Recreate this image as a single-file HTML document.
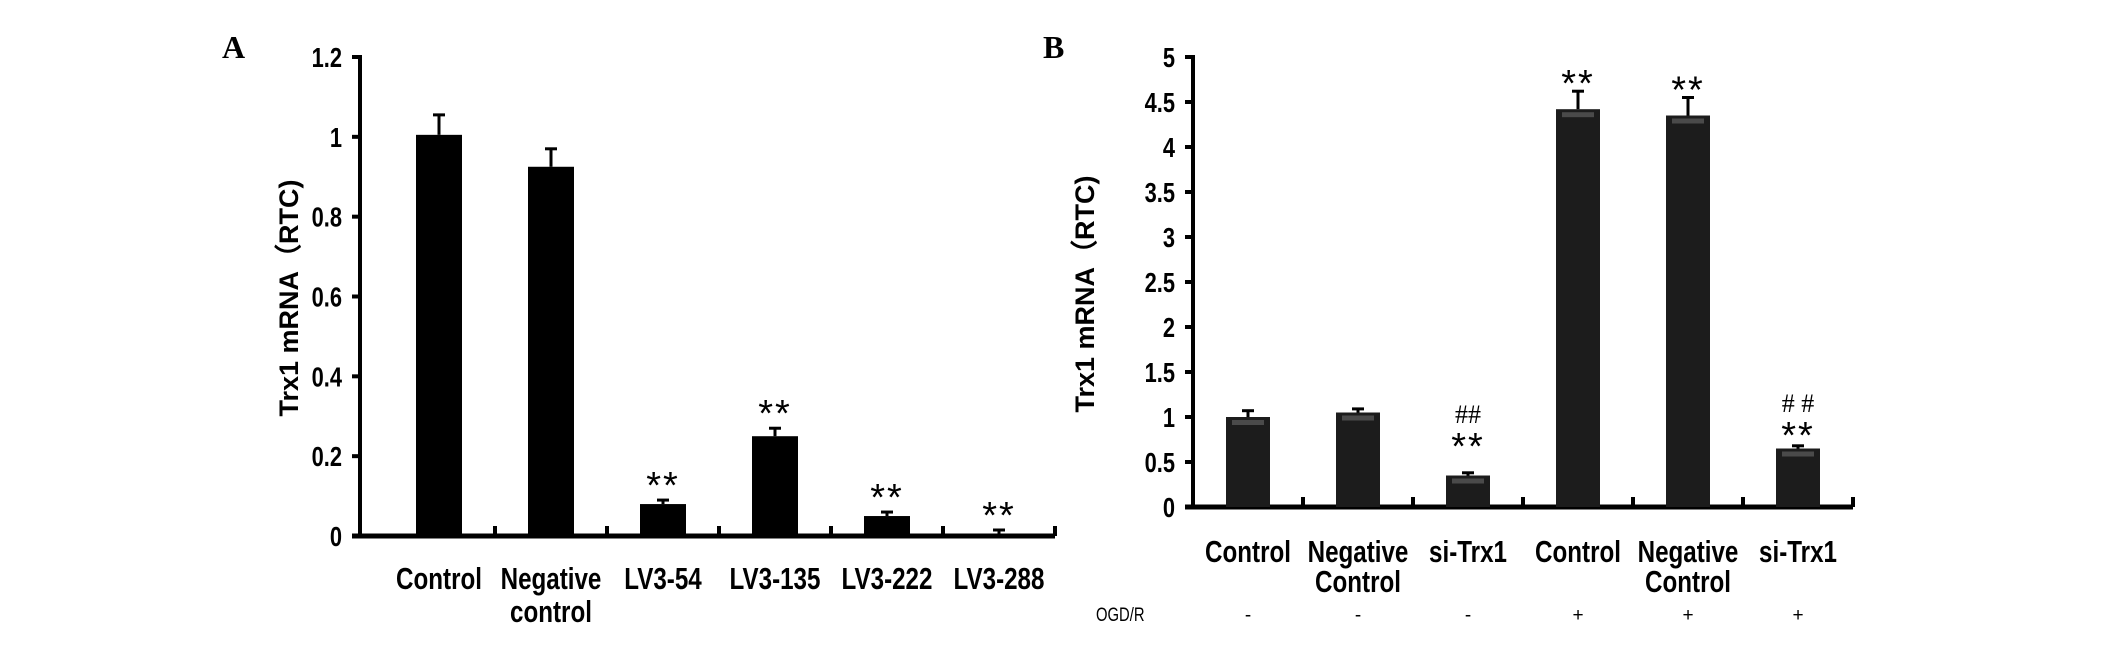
<!DOCTYPE html>
<html><head><meta charset="utf-8"><style>
html,body{margin:0;padding:0;background:#fff;}
svg{display:block;}
.tk{font-family:"Liberation Sans",sans-serif;font-weight:bold;font-size:28px;fill:#000;}
.cat{font-family:"Liberation Sans",sans-serif;font-weight:bold;font-size:31px;fill:#000;}
.yt{font-family:"Liberation Sans",sans-serif;font-weight:bold;font-size:27px;fill:#000;}
.pl{font-family:"Liberation Serif",serif;font-weight:bold;font-size:32px;fill:#000;}
.st{font-family:"Liberation Sans",sans-serif;font-size:38px;fill:#000;}
.hs{font-family:"Liberation Serif",serif;font-size:26px;fill:#000;}
.og{font-family:"Liberation Sans",sans-serif;font-size:19px;fill:#000;}
</style></head><body>
<svg id="fig" width="2126" height="647" xmlns="http://www.w3.org/2000/svg">
<text class="pl" x="222" y="58">A</text>
<text class="pl" x="1043" y="58">B</text>
<text class="yt" transform="translate(298,298) rotate(-90)" text-anchor="middle">Trx1 mRNA（RTC)</text>
<text class="yt" transform="translate(1094,294) rotate(-90)" text-anchor="middle">Trx1 mRNA（RTC)</text>
<g id="gA"></g><g id="gB"></g>
</svg>
<script>
const catsA = [["Control"],["Negative","control"],["LV3-54"],["LV3-135"],["LV3-222"],["LV3-288"]];
const valsA = [1.005, 0.925, 0.08, 0.25, 0.05, 0.005];
const errA = [0.05, 0.045, 0.01, 0.02, 0.01, 0.01];
const sigA = ["", "", "**", "**", "**", "**"];
const ticksA = ["0","0.2","0.4","0.6","0.8","1","1.2"];
const tickValsA = [0,0.2,0.4,0.6,0.8,1,1.2];

const catsB = [["Control"],["Negative","Control"],["si-Trx1"],["Control"],["Negative","Control"],["si-Trx1"]];
const valsB = [1.0, 1.05, 0.35, 4.42, 4.35, 0.65];
const errB = [0.07, 0.04, 0.03, 0.2, 0.2, 0.03];
const sigB = ["", "", "**", "**", "**", "**"];
const hashB = ["", "", "##", "", "", "# #"];
const ogdB = ["-","-","-","+","+","+"];
const ticksB = ["0","0.5","1","1.5","2","2.5","3","3.5","4","4.5","5"];
const tickValsB = [0,0.5,1,1.5,2,2.5,3,3.5,4,4.5,5];

const NS = "http://www.w3.org/2000/svg";
function mk(tag, attrs, parent, txt){const e=document.createElementNS(NS,tag);for(const k in attrs)e.setAttribute(k,attrs[k]);if(txt!==undefined)e.textContent=txt;parent.appendChild(e);return e;}
function ntext(cls, x, y, anchor, parent, txt){
  return mk("text",{class:cls,x:0,y:0,"text-anchor":anchor,transform:"translate("+x+","+y+") scale(0.78,1)"},parent,txt);
}

function panel(g, o){
  const y = v => o.y0 - (v/o.max)*(o.y0-o.yTop);
  const x = i => o.x0 + o.step*(i+0.5);
  const xEnd = o.x0 + o.step*o.vals.length;
  const ax = o.axisX;
  let a = mk("line",{x1:ax,y1:o.yTop-2,x2:ax,y2:o.y0+2,stroke:"#000","stroke-width":4},g);
  
  
  a = mk("line",{x1:ax-8,y1:o.y0,x2:xEnd,y2:o.y0,stroke:"#000","stroke-width":5},g);
  
  
  o.tickVals.forEach((tv,i)=>{
    const l = mk("line",{x1:ax-8,y1:y(tv),x2:ax,y2:y(tv),stroke:"#000","stroke-width":4},g);
    
    
    const t = ntext("tk", ax-18, y(tv)+10, "end", g, o.ticks[i]);
    
    
  });
  for(let i=1;i<=o.vals.length;i++){
    const xx=o.x0+o.step*i;
    const l = mk("line",{x1:xx,y1:o.y0-10,x2:xx,y2:o.y0,stroke:"#000","stroke-width":4},g);
    
    
  }
  o.vals.forEach((v,i)=>{
    const cx=x(i), top=y(v), et=y(v+o.err[i]);
    const el = mk("line",{x1:cx,y1:top,x2:cx,y2:et,stroke:"#000","stroke-width":3},g);
    
    
    const ec = mk("line",{x1:cx-6,y1:et,x2:cx+6,y2:et,stroke:"#000","stroke-width":3},g);
    
    
    const b = mk("rect",{x:cx-o.bw/2,y:top,width:o.bw,height:o.y0-top,fill:o.fill},g);
    
    
    if(o.sheen && o.y0-top>12){
      const s = mk("rect",{x:cx-o.bw/2+6,y:top+3,width:o.bw-12,height:5,fill:"#4a4a4a"},g);
      
      
    }
    if(o.sig[i]){
      const s = mk("text",{class:"st",x:cx,y:et-o.sigOff(i)+8,"text-anchor":"middle","letter-spacing":"2"},g,o.sig[i]);
      
      
    }
    if(o.hash && o.hash[i]){
      const h = mk("text",{class:"hs",x:cx,y:et-o.sigOff(i)-28,"text-anchor":"middle"},g,o.hash[i]);
      
      
    }
    o.cats[i].forEach((ln,j)=>{
      const t = ntext("cat", cx, o.catY+j*o.catDy, "middle", g, ln);
      
      
    });
    if(o.ogd){
      const t = mk("text",{class:"og",x:cx,y:621,"text-anchor":"middle"},g,o.ogd[i]);
      
      
    }
  });
  if(o.ogd){
    const t = ntext("og", 1096, 621, "start", g, "OGD/R");
    
    
  }
}
panel(document.getElementById("gA"),{p:"a",axisX:360,x0:383,y0:536,yTop:57,max:1.2,step:112,bw:46,fill:"#000",
  vals:valsA,err:errA,sig:sigA,ticks:ticksA,tickVals:tickValsA,cats:catsA,catY:589,catDy:33,
  sigOff:i=>10});
panel(document.getElementById("gB"),{p:"b",axisX:1193,x0:1193,y0:507,yTop:57,max:5,step:110,bw:44,fill:"#1c1c1c",sheen:true,
  vals:valsB,err:errB,sig:sigB,hash:hashB,ogd:ogdB,ticks:ticksB,tickVals:tickValsB,cats:catsB,catY:562,catDy:30,
  sigOff:i=>(i===2?22:(i===5?6:3))});
</script>
</body></html>
